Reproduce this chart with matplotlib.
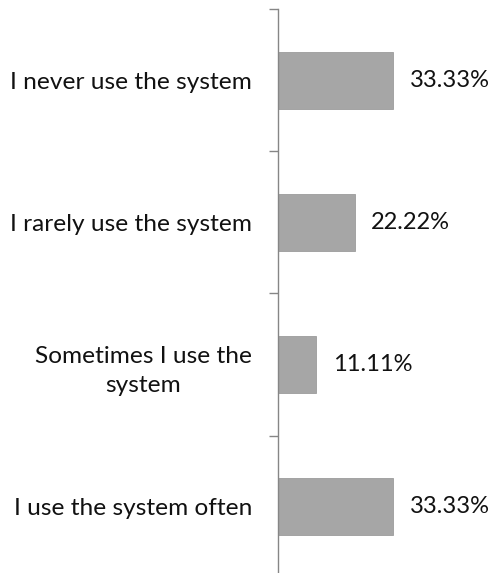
import matplotlib
matplotlib.use("Agg")
import matplotlib.pyplot as plt
import numpy as np

categories = [
    "I never use the system",
    "I rarely use the system",
    "Sometimes I use the\nsystem",
    "I use the system often",
]
values = [33.33, 22.22, 11.11, 33.33]
value_labels = ["33.33%", "22.22%", "11.11%", "33.33%"]

W, H, DPI = 491, 573, 100
plt.rcParams["font.family"] = ["Lato", "DejaVu Sans"]
fig = plt.figure(figsize=(W / DPI, H / DPI), dpi=DPI)

left_px, top_px, bottom_px = 278, 9, 578
ax = fig.add_axes([left_px / W, 1 - bottom_px / H, (W - left_px) / W,
                   (bottom_px - top_px) / H])

n = len(categories)
pos = np.arange(n)
ax.barh(pos, values, height=0.4, color="#a6a6a6", edgecolor="#9c9c9c",
        linewidth=0.6, zorder=2)
ax.set_ylim(n - 0.5, -0.5)
ax.set_xlim(0, 61.7)

for p, v, lab in zip(pos, values, value_labels):
    ax.annotate(lab, (v, p), xytext=(12, 0), textcoords="offset points",
                va="center", ha="left", fontsize=17, color="#111111")

ax.set_yticks(pos)
ax.set_yticklabels(categories, fontsize=17.6, color="#111111",
                   multialignment="center", linespacing=1.5)
label_right = 252
ax.tick_params(axis="y", which="major", length=0,
               pad=(left_px - label_right) * 72 / DPI)
ax.set_yticks(np.arange(n + 1) - 0.5, minor=True)
ax.tick_params(axis="y", which="minor", length=6.5, width=1, color="#868686",
               direction="out")

ax.xaxis.set_visible(False)
for s in ["top", "right", "bottom"]:
    ax.spines[s].set_visible(False)
ax.spines["left"].set_color("#868686")
ax.spines["left"].set_linewidth(1)

fig.savefig("out.png", dpi=DPI)
